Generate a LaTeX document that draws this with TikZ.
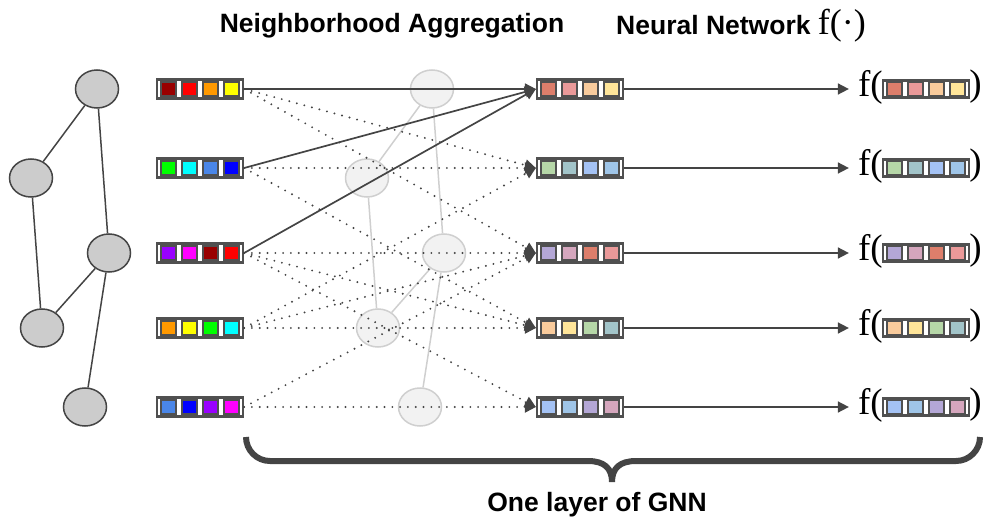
\documentclass[tikz,border=0pt]{standalone}
\usepackage{fontspec}
\setmainfont{Liberation Serif}
\setsansfont{Liberation Sans}
\usetikzlibrary{shapes.geometric,arrows.meta,calc}
\definecolor{edk}{HTML}{444444}
\definecolor{frm}{HTML}{505050}
\definecolor{gfill}{HTML}{CCCCCC}
\definecolor{ffill}{HTML}{F2F2F2}
\definecolor{fdraw}{HTML}{CFCFCF}
% input colors
\definecolor{cDR}{HTML}{990000}
\definecolor{cR}{HTML}{FF0000}
\definecolor{cO}{HTML}{FF9900}
\definecolor{cY}{HTML}{FFFF00}
\definecolor{cG}{HTML}{00FF00}
\definecolor{cC}{HTML}{00FFFF}
\definecolor{cB}{HTML}{4A86E8}
\definecolor{cBB}{HTML}{0000FF}
\definecolor{cP}{HTML}{9900FF}
\definecolor{cM}{HTML}{FF00FF}
% pastel colors
\definecolor{pDR}{HTML}{DD7E6B}
\definecolor{pR}{HTML}{EA9999}
\definecolor{pO}{HTML}{F9CB9C}
\definecolor{pY}{HTML}{FFE599}
\definecolor{pG}{HTML}{B6D7A8}
\definecolor{pC}{HTML}{A2C4C9}
\definecolor{pB}{HTML}{A4C2F4}
\definecolor{pBB}{HTML}{9FC5E8}
\definecolor{pP}{HTML}{B4A7D6}
\definecolor{pM}{HTML}{D5A6BD}
\tikzset{
  gnode/.style={ellipse, minimum width=43pt, minimum height=38pt, fill=gfill, draw=edk, line width=1.5pt, inner sep=0},
  fnode/.style={ellipse, minimum width=43pt, minimum height=38pt, fill=ffill, draw=fdraw, line width=1.5pt, inner sep=0},
  gedge/.style={draw=edk, line width=1.5pt},
  fedge/.style={draw=fdraw, line width=1.5pt},
  vframe/.style={rectangle, minimum width=86pt, minimum height=19pt, draw=frm, line width=2.2pt, fill=white, inner sep=0},
  vcell/.style={rectangle, minimum width=14.5pt, minimum height=14pt, draw=frm, line width=1.6pt, inner sep=0},
  solidarr/.style={draw=edk, line width=1.7pt, -{Triangle[length=11pt,width=11pt]}},
  dotarr/.style={draw=edk, line width=2.1pt, line cap=round, dash pattern=on 0pt off 7.8pt, -{Triangle[length=11pt,width=11pt]}},
  titletxt/.style={font=\sffamily\bfseries\fontsize{26.5}{30}\selectfont, inner sep=0},
  ftxt/.style={font=\fontsize{37}{40}\selectfont, inner sep=0},
}
\newcommand{\myvec}[8]{%
  \node[vframe, minimum height=#8] (#1) at (#2,#3) {};
  \foreach \cc [count=\ii] in {#4,#5,#6,#7} {
    \node[vcell, fill=\cc] at ($(#1.center)+({(\ii-2.5)*21},0)$) {};
  }
}
\begin{document}
\begin{tikzpicture}[x=1pt,y=-1pt]
\useasboundingbox (0,0) rectangle (984,521);
% titles
\node[titletxt] (t1) at (392,26) {Neighborhood Aggregation};
\node[titletxt, anchor=west] (t2) at (616,26) {Neural Network {\rmfamily\mdseries\fontsize{36}{38}\selectfont f(·)}};
% left graph
\node[gnode] (A) at (97,89) {};
\node[gnode] (B) at (31,178) {};
\node[gnode] (C) at (109,253) {};
\node[gnode] (D) at (42,328) {};
\node[gnode] (E) at (85,407) {};
\draw[gedge] (A) -- (B) (A) -- (C) (B) -- (D) (C) -- (D) (C) -- (E);
% faded graph
\node[fnode] (fA) at (432,89) {};
\node[fnode] (fB) at (367,178) {};
\node[fnode] (fC) at (444,253) {};
\node[fnode] (fD) at (378,328) {};
\node[fnode] (fE) at (420,407) {};
\draw[fedge] (fA) -- (fB) (fA) -- (fC) (fB) -- (fD) (fC) -- (fD) (fC) -- (fE);
% input vectors
\myvec{i1}{200}{89}{cDR}{cR}{cO}{cY}{19pt}
\myvec{i2}{200}{168}{cG}{cC}{cB}{cBB}{19pt}
\myvec{i3}{200}{253}{cP}{cM}{cDR}{cR}{19pt}
\myvec{i4}{200}{328}{cO}{cY}{cG}{cC}{19pt}
\myvec{i5}{200}{407}{cB}{cBB}{cP}{cM}{19pt}
% output vectors
\myvec{o1}{580}{89}{pDR}{pR}{pO}{pY}{19pt}
\myvec{o2}{580}{168}{pG}{pC}{pB}{pBB}{19pt}
\myvec{o3}{580}{253}{pP}{pM}{pDR}{pR}{19pt}
\myvec{o4}{580}{328}{pO}{pY}{pG}{pC}{19pt}
\myvec{o5}{580}{407}{pB}{pBB}{pP}{pM}{19pt}
% f( ... ) vectors
\myvec{g1}{926}{89}{pDR}{pR}{pO}{pY}{17pt}
\myvec{g2}{926}{168}{pG}{pC}{pB}{pBB}{17pt}
\myvec{g3}{926}{253}{pP}{pM}{pDR}{pR}{17pt}
\myvec{g4}{926}{328}{pO}{pY}{pG}{pC}{17pt}
\myvec{g5}{926}{407}{pB}{pBB}{pP}{pM}{17pt}
\foreach \k in {1,...,5} {
  \node[ftxt, anchor=east] (fl\k) at ([xshift=1pt,yshift=2pt]g\k.west) {f(};
  \node[ftxt, anchor=west] (fr\k) at ([xshift=-1pt,yshift=2pt]g\k.east) {)};
  \draw[solidarr] (o\k.east) -- ([xshift=-9pt]fl\k.west |- o\k.east);
}
% dotted aggregation
\draw[dotarr] (i1.east) -- (o2.west);
\draw[dotarr] (i2.east) -- (o2.west);
\draw[dotarr] (i4.east) -- (o2.west);
\draw[dotarr] (i1.east) -- (o3.west);
\draw[dotarr] (i3.east) -- (o3.west);
\draw[dotarr] (i4.east) -- (o3.west);
\draw[dotarr] (i5.east) -- (o3.west);
\draw[dotarr] (i2.east) -- (o4.west);
\draw[dotarr] (i3.east) -- (o4.west);
\draw[dotarr] (i4.east) -- (o4.west);
\draw[dotarr] (i3.east) -- (o5.west);
\draw[dotarr] (i5.east) -- (o5.west);
% solid aggregation
\draw[solidarr] (i1.east) -- (o1.west);
\draw[solidarr] (i2.east) -- (o1.west);
\draw[solidarr] (i3.east) -- (o1.west);
% brace
\draw[edk, line width=6pt, line cap=butt]
  (246,437) arc[start angle=180, end angle=270, x radius=24, y radius=-24]
  -- (588,461) .. controls (604,461) and (612,468) .. (612,482)
  .. controls (612,468) and (620,461) .. (636,461)
  -- (956,461) arc[start angle=270, end angle=360, x radius=24, y radius=-24];
\node[titletxt] (t3) at (597,505) {One layer of GNN};
\end{tikzpicture}
\end{document}
